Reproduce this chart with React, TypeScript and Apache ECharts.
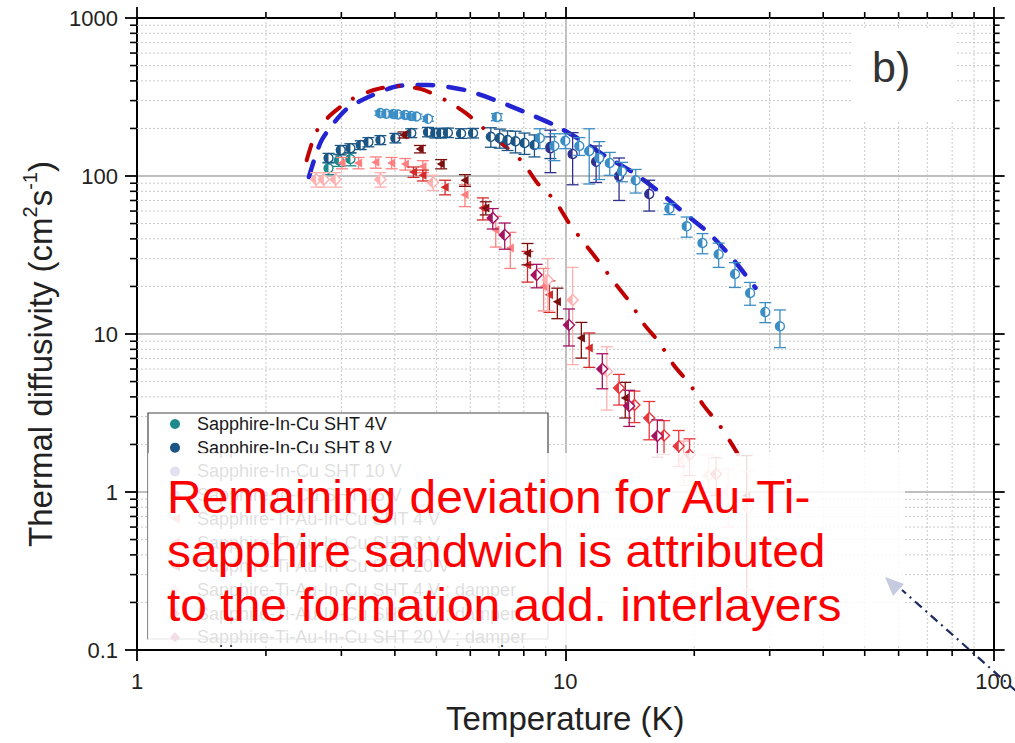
import React, { useEffect, useRef } from "react";
import * as echarts from "echarts";

const FONT = "'Liberation Sans', Arial, sans-serif";

// Axis ranges (log10 on both axes)
const X_MIN = 1;
const X_MAX = 100;
const Y_MIN = 0.1;
const Y_MAX = 1000;

// Minor tick / dotted grid positions
const xMinorTicks = [2, 3, 4, 5, 6, 7, 8, 9, 20, 30, 40, 50, 60, 70, 80, 90];
const yMinorTicks = [
  0.2, 0.3, 0.4, 0.5, 0.6, 0.7, 0.8, 0.9,
  2, 3, 4, 5, 6, 7, 8, 9,
  20, 30, 40, 50, 60, 70, 80, 90,
  200, 300, 400, 500, 600, 700, 800, 900,
];

// ---- Measured thermal diffusivity (T in K, value and error in cm^2/s) ----
const inCu4V_T = [2.8, 2.96, 3.15];
const inCu4V_v = [112, 126, 128];
const inCu4V_e = [10, 11, 12];

const inCu8V_T = [2.8, 2.99, 3.15, 3.33, 3.47, 3.7, 4.01, 4.37, 4.78, 4.97, 5.13, 5.32, 5.71, 6.09, 6.7, 7.03, 7.33, 7.65, 8.03, 8.47, 9.23];
const inCu8V_v = [130, 146, 150, 157, 164, 169, 174, 187, 190, 187, 187, 188, 186, 187, 177, 174, 169, 166, 162, 157, 153];
const inCu8V_e = [9, 10, 10, 10, 11, 11, 12, 12, 13, 13, 13, 13, 13, 13, 25, 24, 24, 26, 25, 25, 24];

const inCu10V_T = [9.23, 10.4, 11.8, 13.35, 15.7];
const inCu10V_v = [150, 138, 123, 100, 77];
const inCu10V_e = [45, 50, 32, 30, 17];

const inCu15V_T = [3.7, 3.82, 3.97, 4.07, 4.23, 4.37, 4.49, 4.78, 6.92, 8.72, 9.43, 10.0, 10.78, 11.37, 12.0, 12.7, 13.56, 14.6, 17.5, 19.2, 20.9, 22.8, 24.9, 27.0, 29.3, 31.7];
const inCu15V_v = [250, 248, 247, 245, 243, 240, 238, 230, 236, 174, 155, 167, 155, 144, 130, 121, 107, 94, 62, 48, 37.7, 32, 24, 18.2, 13.8, 11.2];
const inCu15V_e = [8, 8, 8, 8, 8, 8, 8, 8, 12, 25, 30, 18, 20, 55, 35, 20, 15, 16, 5, 7, 5.5, 5.6, 4.3, 3, 2, 3];

const tiAu4V_T = [3.01, 3.29, 3.61, 3.93, 4.23, 4.65, 5.83, 6.88, 7.44, 8.9];
const tiAu4V_v = [121, 121, 122, 121, 119, 115, 76, 45.5, 35, 20];
const tiAu4V_e = [10, 10, 10, 10, 10, 10, 12, 10, 9, 6];

const tiAu8V_T = [4.42, 4.65, 5.24, 6.42, 8.16, 9.18, 11.37];
const tiAu8V_v = [106, 101, 85, 62.7, 27.3, 17.7, 8.15];
const tiAu8V_e = [8, 8, 9, 10, 6, 4, 2];

const tiAu20V_T = [4.19, 4.58, 5.13, 5.83, 6.52, 8.16, 9.58, 10.9, 13.8, 26.5];
const tiAu20V_v = [182, 148, 119, 94, 62.7, 32.4, 16, 9.44, 3.94, 0.95];
const tiAu20V_e = [8, 8, 8, 8, 6, 5, 3.5, 2.4, 1, 0.75];

const tiAu4Vd_T = [2.62, 2.73, 2.91, 3.7, 4.91, 9.1, 10.4, 12.5, 18.9, 21.6, 24.0, 26.7];
const tiAu4Vd_v = [95, 95, 95, 95, 91, 22, 16.4, 5.8, 1.6, 1.27, 1.0, 0.79];
const tiAu4Vd_e = [10, 10, 10, 10, 10, 8, 10, 2.5, 0.5, 0.45, 0.4, 0.55];

const tiAu8Vd_T = [13.35, 14.5, 15.7, 17.0, 18.4, 19.5, 22.5];
const tiAu8Vd_v = [4.55, 3.55, 2.94, 2.28, 1.95, 1.72, 1.3];
const tiAu8Vd_e = [1.0, 0.8, 0.8, 0.55, 0.5, 0.45, 0.35];

const tiAu20Vd_T = [6.77, 7.22, 8.57, 10.2, 12.2, 14.1, 16.4];
const tiAu20Vd_v = [54.2, 42.4, 23.6, 11.4, 6.0, 3.5, 2.26];
const tiAu20Vd_e = [8, 8, 4, 3, 1.5, 0.9, 0.6];

// ---- Model curves ----
const modelInCu_T = [2.52, 2.7, 3.07, 3.47, 4.07, 4.78, 5.83, 6.84, 8.03, 9.43, 10.66, 12.5, 14.5, 16.6, 19.0, 21.6, 24.4, 27.8];
const modelInCu_v = [98.6, 169, 262, 316, 371, 377, 350, 303, 254, 210, 174, 132, 104, 79, 58, 43.6, 30.7, 19.6];

const modelTiAu_T = [2.49, 2.62, 2.83, 3.15, 3.57, 4.03, 4.61, 5.24, 5.86, 6.52, 7.22, 7.94, 8.61, 9.43, 10.2, 11.07, 12.05, 13.0, 14.2, 15.2, 16.6, 17.9, 19.5, 21.0, 22.9, 24.7, 25.9];
const modelTiAu_v = [126, 190, 243, 303, 350, 371, 355, 303, 250, 195, 155, 123, 90, 70.5, 50.4, 37.7, 28.1, 21.3, 15.7, 11.7, 8.77, 6.37, 4.83, 3.55, 2.65, 1.93, 1.55];

type Kind = "circle" | "left" | "diamond";

const measured: { name: string; color: string; kind: Kind; T: number[]; v: number[]; e: number[] }[] = [
  { name: "Sapphire-In-Cu SHT 4V", color: "#1d8a8c", kind: "circle", T: inCu4V_T, v: inCu4V_v, e: inCu4V_e },
  { name: "Sapphire-In-Cu SHT 8 V", color: "#1b5584", kind: "circle", T: inCu8V_T, v: inCu8V_v, e: inCu8V_e },
  { name: "Sapphire-In-Cu SHT 10 V", color: "#2f2f8f", kind: "circle", T: inCu10V_T, v: inCu10V_v, e: inCu10V_e },
  { name: "Sapphire-In-Cu SHT 15 V", color: "#3a8dc5", kind: "circle", T: inCu15V_T, v: inCu15V_v, e: inCu15V_e },
  { name: "Sapphire-Ti-Au-In-Cu SHT 4 V", color: "#ff8080", kind: "left", T: tiAu4V_T, v: tiAu4V_v, e: tiAu4V_e },
  { name: "Sapphire-Ti-Au-In-Cu SHT 8 V", color: "#d42a2a", kind: "left", T: tiAu8V_T, v: tiAu8V_v, e: tiAu8V_e },
  { name: "Sapphire-Ti-Au-In-Cu SHT 20 V", color: "#7d0f0f", kind: "left", T: tiAu20V_T, v: tiAu20V_v, e: tiAu20V_e },
  { name: "Sapphire-Ti-Au-In-Cu SHT 4 V ; damper", color: "#ffb0b0", kind: "diamond", T: tiAu4Vd_T, v: tiAu4Vd_v, e: tiAu4Vd_e },
  { name: "Sapphire-Ti-Au-In-Cu SHT 8 V ; damper", color: "#e8383d", kind: "diamond", T: tiAu8Vd_T, v: tiAu8Vd_v, e: tiAu8Vd_e },
  { name: "Sapphire-Ti-Au-In-Cu SHT 20 V ; damper", color: "#a3135f", kind: "diamond", T: tiAu20Vd_T, v: tiAu20Vd_v, e: tiAu20Vd_e },
];

const legendIcon: Record<Kind, string> = {
  circle: "circle",
  left: "path://M0,5L10,0L10,10Z",
  diamond: "diamond",
};

function markerShapes(kind: Kind, x: number, y: number, color: string) {
  const r = 4.5;
  if (kind === "circle") {
    return [
      { type: "circle", shape: { cx: x, cy: y, r }, style: { fill: "#fff", stroke: color, lineWidth: 1.4 } },
      { type: "sector", shape: { cx: x, cy: y, r0: 0, r, startAngle: Math.PI / 2, endAngle: Math.PI * 1.5, clockwise: true }, style: { fill: color } },
    ];
  }
  if (kind === "diamond") {
    return [
      { type: "polygon", shape: { points: [[x, y - r - 1], [x + r + 1, y], [x, y + r + 1], [x - r - 1, y]] }, style: { fill: "#fff", stroke: color, lineWidth: 1.4 } },
      { type: "polygon", shape: { points: [[x, y - r - 1], [x, y + r + 1], [x - r - 1, y]] }, style: { fill: color } },
    ];
  }
  return [
    { type: "polygon", shape: { points: [[x - r, y], [x + r * 0.8, y - r], [x + r * 0.8, y + r]] }, style: { fill: color } },
  ];
}

export default function App() {
  const ref = useRef<HTMLDivElement>(null);

  useEffect(() => {
    if (!ref.current) return;
    const chart = echarts.init(ref.current, undefined, { renderer: "svg" });

    const gridXSeries = {
      type: "custom",
      silent: true,
      xAxisIndex: 0,
      yAxisIndex: 0,
      data: xMinorTicks.map((t) => [t, 1]),
      renderItem: (_p: any, api: any) => {
        const t = api.value(0);
        const top = api.coord([t, Y_MAX]);
        const bot = api.coord([t, Y_MIN]);
        const x = top[0];
        return {
          type: "group",
          children: [
            { type: "line", shape: { x1: x, y1: top[1], x2: x, y2: bot[1] }, style: { stroke: "#c9c9c9", lineWidth: 1, lineDash: [2, 2] } },
            { type: "line", shape: { x1: x, y1: bot[1], x2: x, y2: bot[1] + 6 }, style: { stroke: "#000", lineWidth: 1.6 } },
            { type: "line", shape: { x1: x, y1: top[1], x2: x, y2: top[1] - 6 }, style: { stroke: "#000", lineWidth: 1.6 } },
          ],
        };
      },
    };

    const gridYSeries = {
      type: "custom",
      silent: true,
      xAxisIndex: 0,
      yAxisIndex: 0,
      data: yMinorTicks.map((v) => [2, v]),
      renderItem: (_p: any, api: any) => {
        const v = api.value(1);
        const l = api.coord([X_MIN, v]);
        const r = api.coord([X_MAX, v]);
        const y = l[1];
        return {
          type: "group",
          children: [
            { type: "line", shape: { x1: l[0], y1: y, x2: r[0], y2: y }, style: { stroke: "#c9c9c9", lineWidth: 1, lineDash: [2, 2] } },
            { type: "line", shape: { x1: l[0] - 7, y1: y, x2: l[0], y2: y }, style: { stroke: "#000", lineWidth: 1.6 } },
            { type: "line", shape: { x1: r[0], y1: y, x2: r[0] + 6, y2: y }, style: { stroke: "#000", lineWidth: 1.6 } },
          ],
        };
      },
    };

    const curveSeries = [
      {
        type: "line",
        name: "model In-Cu",
        data: modelInCu_T.map((t, i) => [t, modelInCu_v[i]]),
        smooth: 0.25,
        symbol: "none",
        silent: true,
        z: 3,
        lineStyle: { color: "#2424d2", width: 4.5, type: [16, 15], cap: "round" },
      },
      {
        type: "line",
        name: "model Ti-Au",
        data: modelTiAu_T.map((t, i) => [t, modelTiAu_v[i]]),
        smooth: 0.25,
        symbol: "none",
        silent: true,
        z: 3,
        lineStyle: { color: "#c00000", width: 4, type: [16, 16, 0.01, 16], cap: "round" },
      },
    ];

    const dataSeries = measured.map((s) => ({
      type: "custom",
      name: s.name,
      z: 4,
      itemStyle: { color: s.color },
      data: s.T.map((t, i) => [t, s.v[i], s.e[i]]),
      encode: { x: 0, y: 1 },
      renderItem: (_p: any, api: any) => {
        const t = api.value(0);
        const v = api.value(1);
        const e = api.value(2);
        const c = api.coord([t, v]);
        const hi = api.coord([t, v + e]);
        const lo = api.coord([t, Math.max(v - e, Y_MIN)]);
        const w = 6;
        const st = { stroke: s.color, lineWidth: 1.3 };
        return {
          type: "group",
          children: [
            { type: "line", shape: { x1: c[0], y1: hi[1], x2: c[0], y2: lo[1] }, style: st },
            { type: "line", shape: { x1: c[0] - w, y1: hi[1], x2: c[0] + w, y2: hi[1] }, style: st },
            { type: "line", shape: { x1: c[0] - w, y1: lo[1], x2: c[0] + w, y2: lo[1] }, style: st },
            ...markerShapes(s.kind, c[0], c[1], s.color),
          ],
        };
      },
    }));

    const numFmt = (v: number) => String(parseFloat(Number(v).toPrecision(3)));

    const option: any = {
      animation: false,
      textStyle: { fontFamily: FONT },
      grid: { left: 137, right: 15, top: 18, bottom: 93, containLabel: false },
      xAxis: [
        {
          type: "log",
          logBase: 10,
          min: X_MIN,
          max: X_MAX,
          position: "bottom",
          name: "Temperature (K)",
          nameLocation: "middle",
          nameGap: 52,
          nameTextStyle: { fontSize: 33, color: "#222", fontFamily: FONT },
          axisLine: { show: true, onZero: false, lineStyle: { color: "#000", width: 2 } },
          axisTick: { show: true, inside: false, length: 11, lineStyle: { color: "#000", width: 1.8 } },
          axisLabel: { fontSize: 22, color: "#222", margin: 20, formatter: numFmt, fontFamily: FONT },
          splitLine: { show: true, lineStyle: { color: "#aaaaaa", width: 1.5 } },
          minorTick: { show: false },
        },
        {
          type: "log",
          logBase: 10,
          min: X_MIN,
          max: X_MAX,
          position: "top",
          axisLine: { show: true, onZero: false, lineStyle: { color: "#000", width: 2 } },
          axisTick: { show: true, inside: false, length: 11, lineStyle: { color: "#000", width: 1.8 } },
          axisLabel: { show: false },
          splitLine: { show: false },
        },
      ],
      yAxis: [
        {
          type: "log",
          logBase: 10,
          min: Y_MIN,
          max: Y_MAX,
          position: "left",
          axisLine: { show: true, onZero: false, lineStyle: { color: "#000", width: 2 } },
          axisTick: { show: true, inside: false, length: 12, lineStyle: { color: "#000", width: 1.8 } },
          axisLabel: { fontSize: 22, color: "#222", margin: 19, formatter: numFmt, fontFamily: FONT },
          splitLine: { show: true, lineStyle: { color: "#aaaaaa", width: 1.5 } },
        },
        {
          type: "log",
          logBase: 10,
          min: Y_MIN,
          max: Y_MAX,
          position: "right",
          axisLine: { show: true, onZero: false, lineStyle: { color: "#000", width: 2 } },
          axisTick: { show: true, inside: false, length: 11, lineStyle: { color: "#000", width: 1.8 } },
          axisLabel: { show: false },
          splitLine: { show: false },
        },
      ],
      legend: {
        left: 165,
        top: 410,
        orient: "vertical",
        itemWidth: 10,
        itemHeight: 10,
        itemGap: 5.7,
        selectedMode: false,
        data: measured.map((s) => ({ name: s.name, icon: legendIcon[s.kind], itemStyle: { color: s.color } })),
        textStyle: { fontSize: 18, color: "#1a1a1a", lineHeight: 17, padding: [0, 0, 0, 12], fontFamily: FONT },
      },
      graphic: [
        // legend frame
        { type: "rect", z: 3, shape: { x: 148, y: 413, width: 400, height: 226 }, style: { fill: "#fff", stroke: "#444", lineWidth: 1.2 } },
        // panel label
        { type: "rect", z: 3, shape: { x: 853, y: 30, width: 104, height: 92 }, style: { fill: "#fff" } },
        { type: "text", z: 5, x: 872, y: 67, style: { text: "b)", fontSize: 43, fill: "#333", fontFamily: FONT, verticalAlign: "middle" } },
        // y-axis title with superscripts
        {
          type: "text",
          z: 5,
          x: 40,
          y: 354,
          rotation: Math.PI / 2,
          style: {
            text: "{a|Thermal diffusivity (cm}{s|2}{a|s}{s|-1}{a|)}",
            align: "center",
            verticalAlign: "middle",
            fill: "#222",
            rich: {
              a: { fontSize: 33, fontFamily: FONT, fill: "#222", lineHeight: 40 },
              s: { fontSize: 20, fontFamily: FONT, fill: "#222", verticalAlign: "top", lineHeight: 22 },
            },
          },
        },
        // translucent note panel
        { type: "rect", z: 10, shape: { x: 148, y: 453, width: 757, height: 192 }, style: { fill: "rgba(255,255,255,0.86)" } },
        {
          type: "text",
          z: 11,
          x: 167,
          y: 470,
          scaleX: 1.043,
          style: {
            text: "Remaining deviation for Au-Ti-\nsapphire sandwich is attributed\nto the formation add. interlayers",
            fontSize: 46,
            lineHeight: 54,
            fill: "#ff0000",
            fontFamily: FONT,
          },
        },
        // pointer arrow
        { type: "line", z: 11, shape: { x1: 1016, y1: 691, x2: 902, y2: 590 }, style: { stroke: "#1e2b5e", lineWidth: 2.2, lineDash: [9, 5, 2, 5] } },
        { type: "polygon", z: 11, shape: { points: [[885, 577], [904, 584], [893, 596]] }, style: { fill: "#c6cadf" } },
      ],
      series: [gridXSeries, gridYSeries, ...curveSeries, ...dataSeries],
    };

    chart.setOption(option);
    return () => chart.dispose();
  }, []);

  return <div ref={ref} style={{ position: "fixed", left: 0, top: 0, width: 1015, height: 743, background: "#fff" }} />;
}
